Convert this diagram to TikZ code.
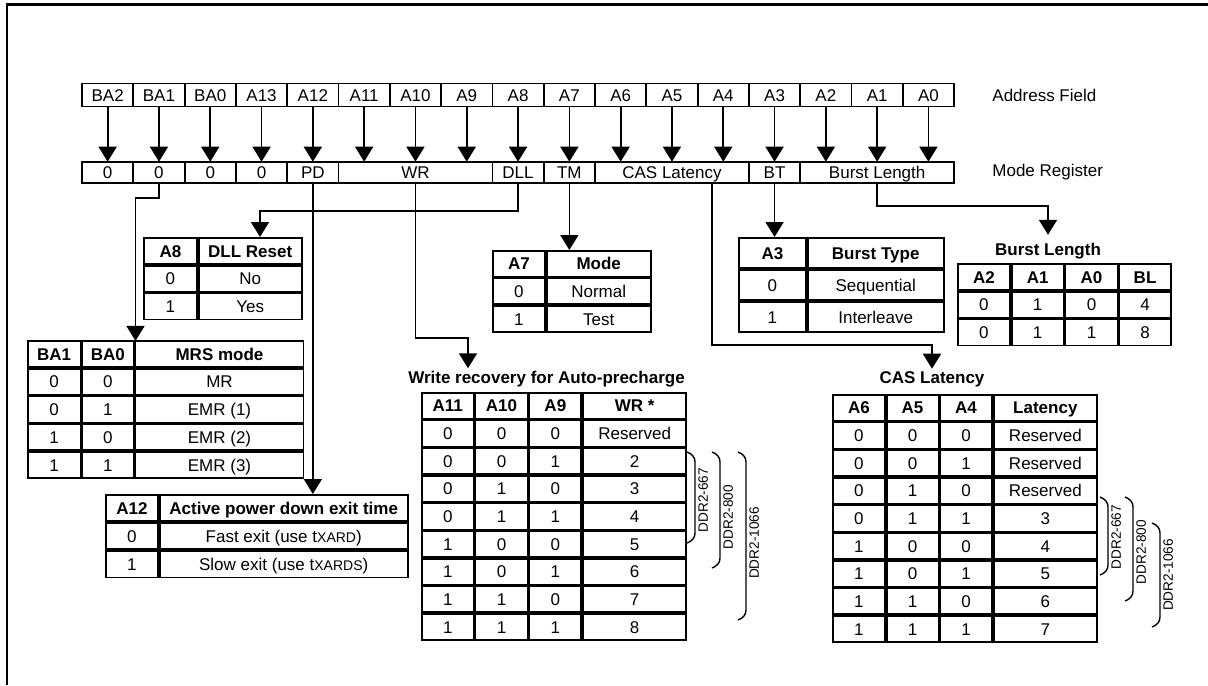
\documentclass[tikz,border=0pt]{standalone}
\usepackage{fontspec}
\setmainfont{Liberation Sans}
\usetikzlibrary{arrows.meta,positioning,matrix}

\newcommand\regfont{\fontsize{8.5}{10}\selectfont}
\newcommand\ddrfont{\fontsize{6.8}{8}\selectfont}
\newcommand\xsub[1]{{\fontsize{7}{8}\selectfont#1}}

\tikzset{
  colw/.style 2 args={column #1/.style={nodes={minimum width=#2}}},
}

\begin{document}
\begin{tikzpicture}[x=0.5pt, y=-0.5pt,
  cell/.style={draw, line width=0.9pt, inner sep=0pt, outer sep=0pt, anchor=center,
               font=\regfont, text height=6.1pt, text depth=0pt},
  addr/.style={cell, minimum width=25.65pt, minimum height=11.5pt},
  reg/.style={cell, minimum width=25.65pt, minimum height=10.8pt},
  tbl/.style={matrix of nodes, anchor=north west, inner sep=0pt, outer sep=0pt,
              column sep=0pt, row sep=0pt, nodes={cell, minimum height=#1},
              row 1/.style={nodes={font=\regfont\bfseries}}},
  tit/.style={font=\regfont\bfseries, inner sep=1pt, anchor=base},
  side/.style={font=\regfont, anchor=west, inner sep=0pt},
  arr/.style={-{Triangle[width=9pt,length=7.5pt]}, line width=0.85pt},
  brc/.style={line width=0.7pt},
  ddr/.style={font=\ddrfont, rotate=90, anchor=north, inner sep=1pt}
]
\useasboundingbox (0,0) rectangle (1208,685);
\draw[line width=1.5pt] (6,4.5) -- (1208,4.5);
\draw[line width=0.9pt] (7,4) -- (7,685);

% address field
\foreach \lbl [count=\i from 0] in {BA2,BA1,BA0,A13,A12,A11,A10,A9,A8,A7,A6,A5,A4,A3,A2,A1,A0}
  \node[addr] (a\i) at ({107.65+51.3*\i},95) {\lbl};

% mode register
\node[reg] (r0) at (107.65,172.5) {0};
\node[reg, right=0pt of r0] (r1) {0};
\node[reg, right=0pt of r1] (r2) {0};
\node[reg, right=0pt of r2] (r3) {0};
\node[reg, right=0pt of r3] (rPD) {PD};
\node[reg, minimum width=76.95pt, right=0pt of rPD] (rWR) {WR};
\node[reg, right=0pt of rWR] (rDLL) {DLL};
\node[reg, right=0pt of rDLL] (rTM) {TM};
\node[reg, minimum width=76.95pt, right=0pt of rTM] (rCAS) {CAS Latency};
\node[reg, right=0pt of rCAS] (rBT) {BT};
\node[reg, minimum width=76.95pt, right=0pt of rBT] (rBL) {Burst Length};

\node[side] (afld) at (992,95) {Address Field};
\node[side] (mreg) at (992,172.5) {Mode Register};

\foreach \i in {0,...,16}
  \draw[arr] (a\i.south) -- (a\i.south |- r0.north);

% tables
\matrix[tbl=13pt, colw={1}{26.5pt}, colw={2}{51.5pt}] (dll) at (143,237) {
  A8 & DLL Reset \\
  0 & No \\
  1 & Yes \\
};
\matrix[tbl=13pt, colw={1}{26.25pt}, colw={2}{25.75pt}, colw={3}{84pt}] (mrs) at (27,340) {
  BA1 & BA0 & MRS mode \\
  0 & 0 & MR \\
  0 & 1 & EMR (1) \\
  1 & 0 & EMR (2) \\
  1 & 1 & EMR (3) \\
};
\matrix[tbl=13.15pt, colw={1}{26pt}, colw={2}{124pt}] (apd) at (105,494) {
  A12 & Active power down exit time \\
  0 & Fast exit (use t\xsub{XARD}) \\
  1 & Slow exit (use t\xsub{XARDS}) \\
};
\matrix[tbl=12.9pt, colw={1}{26pt}, colw={2}{52pt}] (mode) at (492,250) {
  A7 & Mode \\
  0 & Normal \\
  1 & Test \\
};
\matrix[tbl=15.1pt, colw={1}{33.5pt}, colw={2}{68pt}] (bt) at (738,237) {
  A3 & Burst Type \\
  0 & Sequential \\
  1 & Interleave \\
};
\node[tit] (bltit) at (1048,255.5) {Burst Length};
\matrix[tbl=13pt, colw={1}{26pt}, colw={2}{26pt}, colw={3}{26pt}, colw={4}{25.75pt}] (bl) at (957,263) {
  A2 & A1 & A0 & BL \\
  0 & 1 & 0 & 4 \\
  0 & 1 & 1 & 8 \\
};
\node[tit] (wrtit) at (546.5,383) {Write recovery for Auto-precharge};
\matrix[tbl=12.93pt, colw={1}{25.85pt}, colw={2}{26.15pt}, colw={3}{25.85pt}, colw={4}{51.65pt}] (wr) at (421,392) {
  A11 & A10 & A9 & WR * \\
  0 & 0 & 0 & Reserved \\
  0 & 0 & 1 & 2 \\
  0 & 1 & 0 & 3 \\
  0 & 1 & 1 & 4 \\
  1 & 0 & 0 & 5 \\
  1 & 0 & 1 & 6 \\
  1 & 1 & 0 & 7 \\
  1 & 1 & 1 & 8 \\
};
\node[tit] (castit) at (932,383) {CAS Latency};
\matrix[tbl=12.93pt, colw={1}{26pt}, colw={2}{25.85pt}, colw={3}{25.85pt}, colw={4}{51.65pt}] (cas) at (832,394) {
  A6 & A5 & A4 & Latency \\
  0 & 0 & 0 & Reserved \\
  0 & 0 & 1 & Reserved \\
  0 & 1 & 0 & Reserved \\
  0 & 1 & 1 & 3 \\
  1 & 0 & 0 & 4 \\
  1 & 0 & 1 & 5 \\
  1 & 1 & 0 & 6 \\
  1 & 1 & 1 & 7 \\
};

% connectors
\draw[arr] (r1.south) -- ++(0,15) -| (mrs-1-3.north west);
\draw[arr] (rDLL.south) -- ++(0,28) -| ([xshift=58.5pt]dll.north west);
\draw[arr] (rPD.south) -- (rPD.south |- apd.north);
\draw[arr] (rWR.south) -- ++(0,154.5) -| ([xshift=-39.25pt]wrtit.north);
\draw[arr] (rTM.south) -- (rTM.south |- mode.north);
\draw[arr] ([xshift=20pt]rCAS.south) -- ++(0,162) -| (castit.north);
\draw[arr] (rBT.south) -- (rBT.south |- bt.north);
\draw[arr] (rBL.south) -- ++(0,22.5) -| ([yshift=3pt]bltit.north);

% speed grade braces
\foreach \bx/\bt/\bb/\ly/\lbl in {687/452/543/500/DDR2-667, 712/452/568/517/DDR2-800,
    738/452/620/543/DDR2-1066, 1100/497/575/537/DDR2-667,
    1125/497/601/552/DDR2-800, 1152/523/627/575/DDR2-1066} {
  \draw[brc] (\bx,\bt) to[out=-20,in=90] (\bx+8,\bt+10) -- (\bx+8,\bb-10) to[out=-90,in=20] (\bx,\bb);
  \node[ddr] at (\bx+9,\ly) {\lbl};
}
\end{tikzpicture}
\end{document}
